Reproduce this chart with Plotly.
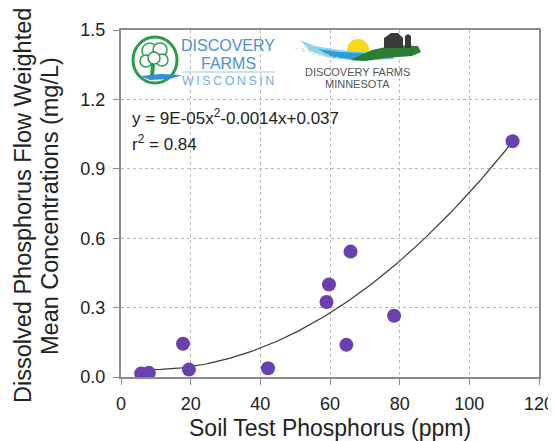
import plotly.graph_objects as go

# ---- data ----
stp_ppm = [5.8, 8.0, 17.8, 19.5, 42.2, 59.0, 59.7, 64.7, 65.9, 78.4, 112.4]
dp_fwmc = [0.015, 0.018, 0.144, 0.032, 0.038, 0.324, 0.400, 0.139, 0.542, 0.265, 1.019]
fit_coef = [9e-05, -0.0014, 0.037]   # a, b, c of displayed quadratic trendline
fit_range = [5, 112]
x_ticks = [0, 20, 40, 60, 80, 100, 120]
y_ticks = [0.0, 0.3, 0.6, 0.9, 1.2, 1.5]

# page has an 8px body margin; figure sized so it fits the 556x441 window
W, H = 540, 433
L, R, T, B = 113, 9, 22, 64

# helpers mapping reference-screenshot pixels to paper coords (plot area 121..539, 30..377)
def px(x):
    return (x - 121) / 418

def py(y):
    return (377 - y) / 347

n = 200
fx = [fit_range[0] + (fit_range[1] - fit_range[0]) * i / (n - 1) for i in range(n)]
fy = [fit_coef[0] * v * v + fit_coef[1] * v + fit_coef[2] for v in fx]

fig = go.Figure()
fig.add_trace(go.Scatter(x=fx, y=fy, mode="lines",
                         line=dict(color="#3a3a3a", width=1.2), hoverinfo="skip"))
fig.add_trace(go.Scatter(x=stp_ppm, y=dp_fwmc, mode="markers",
                         marker=dict(color="#6a3fae", size=14, line=dict(width=0))))

FONT = "Liberation Sans, Arial, sans-serif"
axis_common = dict(showline=True, linecolor="#8c8c8c", linewidth=2, mirror=True,
                   ticks="outside", ticklen=6, tickcolor="#8c8c8c", tickwidth=1,
                   showgrid=True, gridcolor="#b8b8b8", griddash="dot", gridwidth=1,
                   zeroline=False, automargin=False, ticklabeloverflow="allow",
                   tickfont=dict(size=18, color="#222", family=FONT))

fig.update_layout(
    width=W, height=H, margin=dict(l=L, r=R, t=T, b=B),
    paper_bgcolor="white", plot_bgcolor="white", showlegend=False,
    font=dict(family=FONT, color="#222"),
    xaxis=dict(range=[0, 120], tickvals=x_ticks, ticklabelstandoff=3, **axis_common),
    yaxis=dict(range=[0, 1.5], tickvals=y_ticks, tickformat=".1f", ticklabelstandoff=4,
               **axis_common),
)

shapes = []
def pshape(**kw):
    kw.setdefault("xref", "paper"); kw.setdefault("yref", "paper")
    shapes.append(kw)

def path(pts):
    return "M " + " L ".join(f"{px(a):.5f},{py(b):.5f}" for a, b in pts) + " Z"

# Wisconsin logo
GREEN = "#2a9d45"
pshape(type="circle", x0=px(133), x1=px(177), y0=py(83), y1=py(37),
       line=dict(color=GREEN, width=3), fillcolor="white")
for cx, cy, r in [(150, 51, 8), (160, 50, 7), (146, 61, 6), (162, 60, 6), (154, 58, 6)]:
    pshape(type="circle", x0=px(cx - r), x1=px(cx + r), y0=py(cy + r), y1=py(cy - r),
           line=dict(color=GREEN, width=1.5), fillcolor="white")
pshape(type="path", path=path([(151, 64), (155, 64), (154, 76), (150, 76)]),
       fillcolor=GREEN, line=dict(width=0))
pshape(type="path", path=path([(140, 76), (160, 74), (182, 75), (170, 79), (150, 80)]),
       fillcolor="#2f8fd8", line=dict(width=0))
pshape(type="line", x0=px(182), x1=px(275), y0=py(72), y1=py(72),
       line=dict(color="#b6dfd2", width=1.5))

# Minnesota logo
pshape(type="circle", x0=px(347), x1=px(369), y0=py(61), y1=py(39),
       fillcolor="#f5d91c", line=dict(width=0))
pshape(type="path", path=path([(300, 40), (315, 46), (340, 50), (365, 52), (392, 52),
                                (394, 59), (360, 61), (330, 58), (310, 51)]),
       fillcolor="#8fd3ea", line=dict(width=0))
pshape(type="path", path=path([(318, 49), (340, 52), (365, 53), (392, 53),
                                (393, 58), (360, 60), (332, 57)]),
       fillcolor="#2a9fdc", line=dict(width=0))
pshape(type="path", path=path([(350, 60), (372, 50), (395, 45), (418, 46), (421, 52),
                                (412, 56), (385, 58), (365, 61)]),
       fillcolor="#2e7d32", line=dict(width=0))
pshape(type="path", path=path([(384, 48), (384, 38), (391, 33), (398, 33), (403, 38), (403, 48)]),
       fillcolor="#3a3a3a", line=dict(width=0))
pshape(type="path", path=path([(405, 48), (405, 36), (408, 34), (411, 36), (411, 48)]),
       fillcolor="#3a3a3a", line=dict(width=0))
for a, b in [(305, 52), (312, 55), (322, 58)]:
    pshape(type="line", x0=px(a - 10), x1=px(a + 20), y0=py(b - 4), y1=py(b),
           line=dict(color="#b9dcb0", width=1, dash="dot"))

fig.update_layout(shapes=shapes)

ann = []
def ptext(x, y, text, size, color, anchor="center", angle=0):
    ann.append(dict(xref="paper", yref="paper", x=px(x), y=py(y), text=text,
                    showarrow=False, xanchor=anchor, yanchor="middle", textangle=angle,
                    font=dict(size=size, color=color, family=FONT)))

ptext(228, 45.5, "DISCOVERY", 16, "#4a90d9")
ptext(228, 63.5, "FARMS", 16, "#4a90d9")
ptext(228, 81, "W\u2009I\u2009S\u2009C\u2009O\u2009N\u2009S\u2009I\u2009N", 12.5, "#6fb0e0")
ptext(357, 72, "DISCOVERY FARMS", 11, "#555555")
ptext(357, 84, "MINNESOTA", 11, "#555555")
ptext(130, 117, "y = 9E-05x<sup>2</sup>-0.0014x+0.037", 17, "#222", anchor="left")
ptext(130, 143, "r<sup>2</sup> = 0.84", 17, "#222", anchor="left")
# axis titles
ptext(330, 428, "Soil Test Phosphorus (ppm)", 23, "#222")
ptext(23, 206, "Dissolved Phosphorus Flow Weighted", 23.5, "#222", angle=-90)
ptext(50, 206, "Mean Concentrations (mg/L)", 23.5, "#222", angle=-90)
fig.update_layout(annotations=ann)

fig.write_html("out.html")
